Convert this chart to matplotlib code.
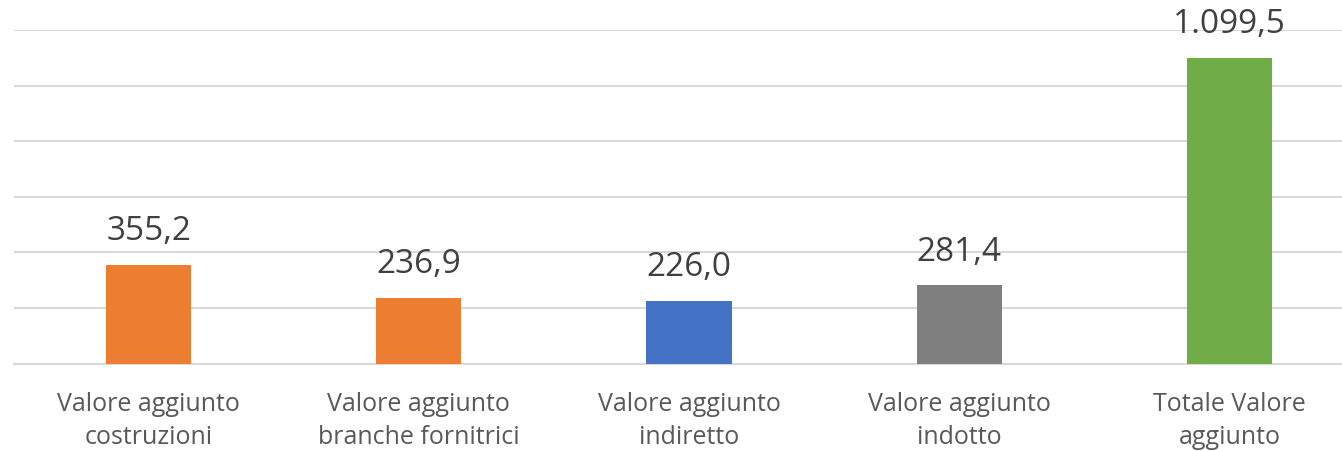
import matplotlib.pyplot as plt

categories = ['Valore aggiunto\ncostruzioni', 'Valore aggiunto\nbranche fornitrici',
              'Valore aggiunto\nindiretto', 'Valore aggiunto\nindotto', 'Totale Valore\naggiunto']
values = [355.2, 236.9, 226.0, 281.4, 1099.5]
labels = ['355,2', '236,9', '226,0', '281,4', '1.099,5']
colors = ['#ED7D31', '#ED7D31', '#4472C4', '#7F7F7F', '#70AD47']

plt.rcParams['font.family'] = ['Open Sans', 'DejaVu Sans']

fig = plt.figure(figsize=(13.42, 4.51), dpi=100)
# axes runs past the right edge, like the original cropped chart
ax = fig.add_axes([13.5 / 1342, (451 - 363.5) / 451, 1351 / 1342, 333.5 / 451])

x = range(len(values))
bars = ax.bar(x, values, width=0.315, color=colors, zorder=3)

ax.set_xlim(-0.5, 4.5)
ax.set_ylim(0, 1200)
ax.set_yticks(range(0, 1201, 200))
ax.yaxis.grid(True, color='#d9d9d9', linewidth=1.5, zorder=0)
ax.tick_params(axis='y', left=False, labelleft=False)
ax.tick_params(axis='x', bottom=False, pad=17)
ax.set_xticks(list(x))
ax.set_xticklabels(categories, fontsize=18, color='#595959', linespacing=1.42)
for s in ['top', 'right', 'left']:
    ax.spines[s].set_visible(False)
ax.spines['bottom'].set_color('#d9d9d9')
ax.spines['bottom'].set_linewidth(1.5)

for b, lab in zip(bars, labels):
    ax.annotate(lab, (b.get_x() + b.get_width() / 2, b.get_height()),
                xytext=(0, 12), textcoords='offset points', ha='center', va='bottom',
                fontsize=24, color='#404040', annotation_clip=False)

fig.savefig('out.png', dpi=100)
